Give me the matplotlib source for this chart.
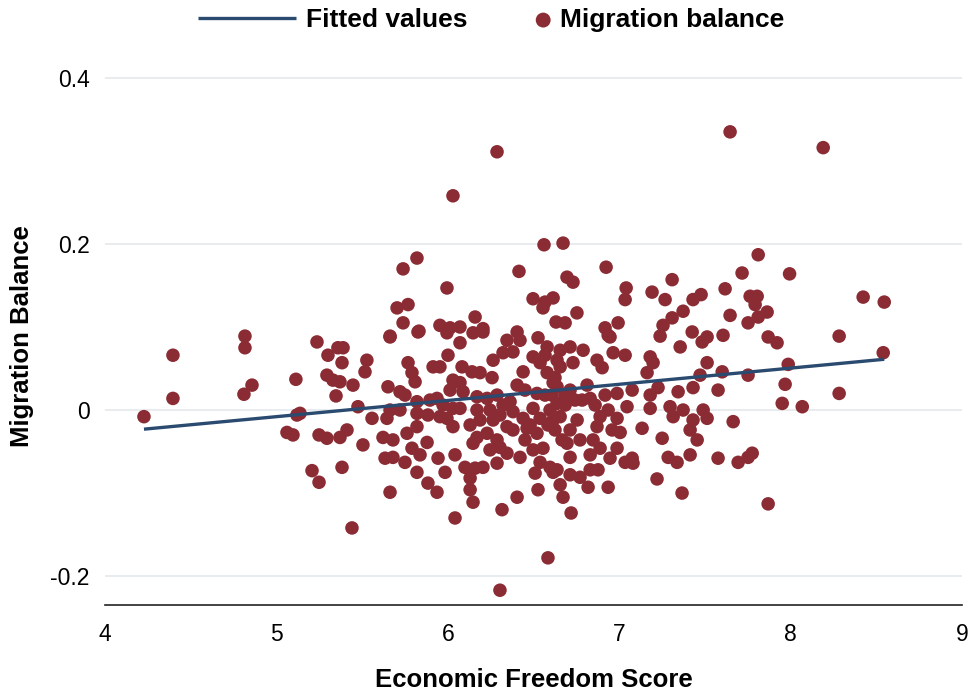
import matplotlib
matplotlib.use("Agg")
import matplotlib.pyplot as plt
import numpy as np

# Economic freedom score vs migration balance
freedom = [
    4.228, 4.397, 4.397, 4.817, 4.817, 4.858, 4.811, 5.114, 5.120, 5.138,
    5.062, 5.097, 5.237, 5.301, 5.359, 5.389, 5.383, 5.295, 5.330, 5.371,
    5.348, 5.249, 5.295, 5.371, 5.412, 5.208, 5.249, 5.383, 5.441,
    # 5.4 - 6.6
    5.663, 5.826, 5.995, 6.147, 6.205, 6.071, 6.345, 6.421, 6.526, 6.579,
    5.528, 5.517, 5.447, 5.768, 5.791, 5.809, 5.914, 5.954, 6.001, 6.083,
    6.141, 6.188, 6.258, 6.264, 6.322, 6.380, 6.439, 6.497, 6.538, 6.579,
    6.614, 6.030, 6.071, 5.651, 5.721, 6.013, 6.089, 6.170, 6.229, 6.287,
    6.363, 6.450, 6.520, 5.476, 5.663, 5.721, 5.820, 5.937, 5.972, 6.030,
    6.071, 6.170, 6.246, 6.322, 6.380, 6.439, 6.497, 6.538, 6.596, 5.558,
    5.645, 5.820, 5.884, 5.954, 5.995, 6.030, 6.188, 6.264, 6.345, 6.380,
    6.462, 6.520, 5.622, 5.680, 5.762, 5.820, 5.879, 6.170, 6.229, 6.287,
    5.505, 5.791, 6.147, 6.246, 6.304, 6.345, 6.421, 6.497, 6.555, 6.538,
    5.634, 5.680, 5.750, 5.943, 6.100, 6.159, 6.205, 6.287, 5.820, 5.984,
    6.130, 6.509, 6.614, 5.884, 5.937, 6.130, 5.663, 6.147, 6.526, 6.404,
    6.316, 6.042, 6.584, 6.304,
    # denser centre
    6.404, 6.567, 6.480, 6.625, 6.304, 6.130, 5.896, 5.750, 5.838, 6.042,
    6.450, 6.584, 6.684, 6.771, 6.859, 6.655, 6.567, 6.637, 6.608, 6.666,
    6.742, 6.614,
    # upper part
    6.287, 6.030, 5.820, 5.739, 6.415, 5.995, 5.704, 5.768, 5.739, 5.832,
    5.663, 5.954, 6.013, 6.071, 6.159, 6.205, 6.404, 6.497, 6.567, 6.614,
    6.555, 6.631, 6.561,
    7.646, 6.672, 6.923, 6.695, 6.730, 7.308, 7.040, 7.034, 7.191, 7.267,
    7.617, 7.430, 7.477, 7.372, 7.308, 7.255, 7.646, 6.684, 6.753, 6.917,
    6.993, 6.946, 7.238, 7.425, 7.512, 7.605, 7.751,
    # 6.6 - 7.8
    7.483, 7.355, 7.180, 7.197, 7.162, 7.034, 6.964, 6.870, 6.900, 6.789,
    6.713, 6.935, 6.655, 6.730, 7.512, 7.600, 7.471, 7.751, 7.576, 7.430,
    7.343, 7.226, 7.180, 7.180, 7.075, 6.987, 6.917, 6.812, 6.783, 6.830,
    6.713, 6.637, 7.045, 7.296, 7.372, 7.314, 7.489, 7.512, 7.430, 7.664,
    7.413, 7.454, 7.250, 7.133, 6.987, 6.935, 6.888, 6.870, 6.958, 7.005,
    6.847, 6.888, 6.987, 6.830, 6.946, 7.034, 7.075, 7.080, 7.285, 7.337,
    7.413, 7.576, 7.693, 7.751, 6.713, 6.695, 6.713, 6.655, 6.754, 6.637,
    6.596, 6.637, 6.713, 6.771, 6.830, 6.876, 6.655, 6.818, 6.935, 7.220,
    6.672, 7.366, 6.719, 6.625, 6.684,
    # right tail
    8.189, 7.810, 7.716, 7.993, 7.763, 7.804, 8.422, 8.545, 7.792, 7.810,
    7.862, 7.868, 7.920, 8.282, 8.539, 7.985, 7.967, 8.282, 7.950, 8.067,
    7.775, 7.868,
]

migration = [
    -0.008, 0.066, 0.014, 0.089, 0.075, 0.030, 0.019, 0.037, -0.006, -0.004,
    -0.027, -0.030, 0.082, 0.066, 0.075, 0.075, 0.057, 0.042, 0.036, 0.034,
    0.017, -0.030, -0.034, -0.033, -0.024, -0.073, -0.087, -0.069, -0.142,
    # 5.4 - 6.6
    0.088, 0.094, 0.093, 0.093, 0.094, 0.081, 0.084, 0.084, 0.087, 0.076,
    0.060, 0.046, 0.030, 0.057, 0.045, 0.034, 0.052, 0.052, 0.066, 0.052,
    0.046, 0.045, 0.039, 0.060, 0.069, 0.070, 0.046, 0.064, 0.057, 0.045,
    0.033, 0.036, 0.033, 0.028, 0.022, 0.024, 0.022, 0.016, 0.014, 0.018,
    0.010, 0.024, 0.020, 0.004, 0.000, 0.000, 0.010, 0.014, 0.006, 0.002,
    0.002, 0.000, 0.000, 0.006, -0.002, -0.010, 0.002, -0.010, 0.000, -0.010,
    -0.010, -0.004, -0.006, -0.008, -0.010, -0.020, -0.012, -0.012, -0.020, -0.024,
    -0.022, -0.028, -0.033, -0.036, -0.028, -0.020, -0.039, -0.033, -0.028, -0.036,
    -0.042, -0.046, -0.040, -0.048, -0.045, -0.052, -0.057, -0.048, -0.046, -0.063,
    -0.058, -0.057, -0.063, -0.058, -0.069, -0.070, -0.069, -0.064, -0.075, -0.075,
    -0.082, -0.076, -0.075, -0.088, -0.099, -0.096, -0.099, -0.111, -0.096, -0.105,
    -0.120, -0.130, -0.178, -0.217,
    # denser centre
    0.030, 0.018, -0.018, -0.024, -0.006, -0.018, 0.012, 0.018, -0.054, -0.054,
    -0.036, -0.018, 0.006, -0.036, 0.006, 0.072, 0.066, 0.060, 0.018, -0.036,
    0.012, -0.012,
    # upper part
    0.311, 0.258, 0.183, 0.170, 0.167, 0.147, 0.123, 0.127, 0.105, 0.095,
    0.089, 0.102, 0.099, 0.100, 0.112, 0.098, 0.094, 0.134, 0.130, 0.135,
    0.123, 0.106, 0.199,
    0.335, 0.201, 0.172, 0.160, 0.154, 0.157, 0.147, 0.133, 0.142, 0.133,
    0.146, 0.133, 0.139, 0.119, 0.111, 0.102, 0.114, 0.105, 0.117, 0.099,
    0.105, 0.088, 0.089, 0.094, 0.088, 0.090, 0.105,
    # 6.6 - 7.8
    0.082, 0.076, 0.064, 0.057, 0.045, 0.066, 0.069, 0.060, 0.051, 0.072,
    0.076, 0.090, 0.052, 0.057, 0.057, 0.046, 0.042, 0.042, 0.024, 0.027,
    0.022, 0.027, 0.018, 0.002, 0.024, 0.020, 0.018, 0.030, 0.012, 0.014,
    0.024, 0.028, 0.004, 0.004, 0.000, -0.008, 0.000, -0.010, -0.012, -0.014,
    -0.024, -0.036, -0.034, -0.022, -0.010, 0.000, -0.008, -0.020, -0.024, -0.027,
    -0.036, -0.046, -0.046, -0.054, -0.058, -0.063, -0.058, -0.064, -0.057, -0.063,
    -0.054, -0.058, -0.063, -0.057, -0.057, -0.040, -0.024, -0.008, -0.012, 0.008,
    -0.069, -0.072, -0.078, -0.081, -0.072, -0.072, -0.090, -0.093, -0.093, -0.083,
    -0.105, -0.100, -0.124, 0.039, 0.018,
    # right tail
    0.316, 0.187, 0.165, 0.164, 0.137, 0.137, 0.136, 0.130, 0.127, 0.112,
    0.118, 0.088, 0.081, 0.089, 0.069, 0.055, 0.031, 0.020, 0.008, 0.004,
    -0.052, -0.113,
]

# fitted regression line
fit_slope = 0.0195
fit_intercept = -0.1055

y_ticks = [-0.2, 0, 0.2, 0.4]
y_tick_labels = ['-0.2', '0', '0.2', '0.4']
x_ticks = [4, 5, 6, 7, 8, 9]

plt.rcParams['font.family'] = ['Liberation Sans', 'DejaVu Sans']

fig = plt.figure(figsize=(9.71, 6.98), dpi=100)
ax = fig.add_axes([0.108, 0.133, 0.883, 0.803])

x = np.array(freedom)
y = np.array(migration)

# linha de ajuste
xs = np.array([x.min(), x.max()])
line, = ax.plot(xs, fit_intercept + fit_slope * xs, color='#2a4a70', lw=2.4,
                solid_capstyle='butt', zorder=3)

# pontos
pts = ax.scatter(x, y, s=95, color='#8b2b33', edgecolors='none', zorder=2)

ax.set_xlim(4, 9)
ax.set_ylim(-0.235, 0.44)
ax.set_xticks(x_ticks)
ax.set_yticks(y_ticks)
ax.set_yticklabels(y_tick_labels)
ax.tick_params(length=0, labelsize=16.5)
ax.tick_params(axis='x', pad=13)
ax.tick_params(axis='y', pad=11)

ax.grid(axis='y', color='#e6eaed', lw=1.3)
ax.set_axisbelow(True)
for s in ['top', 'right', 'left']:
    ax.spines[s].set_visible(False)
ax.spines['bottom'].set_color('#222222')
ax.spines['bottom'].set_linewidth(1.2)

ax.set_xlabel('Economic Freedom Score', fontsize=18.5, fontweight='bold', labelpad=16)
ax.set_ylabel('Migration Balance', fontsize=18.5, fontweight='bold', va='center')
ax.yaxis.set_label_coords(-0.097, 0.48)

# legenda em cima: duas partes
leg_font = {'size': 19, 'weight': 'bold'}
fig.legend([line], ['Fitted values'], loc='center left',
           bbox_to_anchor=(198 / 971, 1 - 20 / 698), frameon=False,
           prop=leg_font, handlelength=3.7, handletextpad=0.4,
           borderpad=0, borderaxespad=0)
fig.legend([pts], ['Migration balance'], loc='center left',
           bbox_to_anchor=(530 / 971, 1 - 20 / 698), frameon=False,
           prop=leg_font, handlelength=1.0, handletextpad=0.15,
           borderpad=0, borderaxespad=0, scatterpoints=1, markerscale=1.1)

fig.savefig('out.png', dpi=100)
